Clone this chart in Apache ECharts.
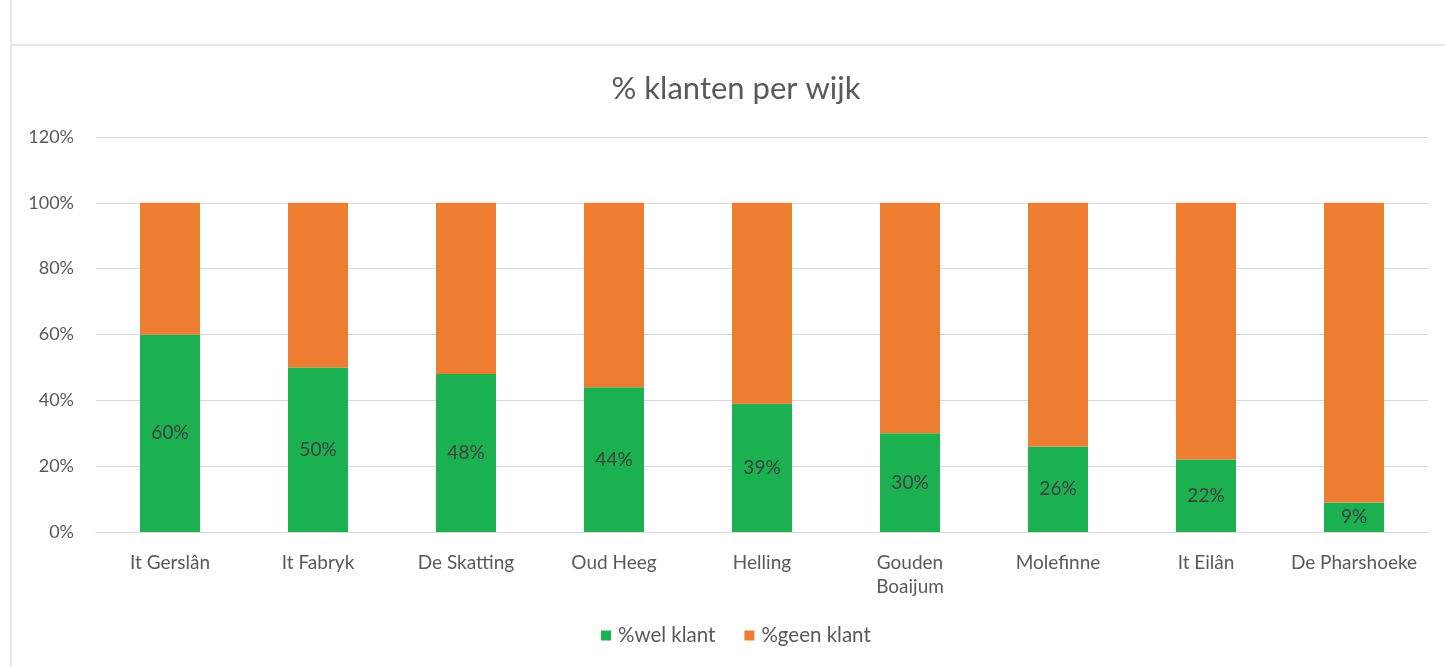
<!DOCTYPE html>
<html>
<head>
<meta charset="utf-8">
<script src="https://cdn.jsdelivr.net/npm/echarts@6/dist/echarts.min.js"></script>
<style>
html,body{margin:0;padding:0;background:#fff;}
#c{width:1445px;height:667px;}
</style>
</head>
<body>
<div id="c"></div>
<script>
const categories = ['It Gerslân','It Fabryk','De Skatting','Oud Heeg','Helling','Gouden\nBoaijum','Molefinne','It Eilân','De Pharshoeke'];
const welKlant = [60,50,48,44,39,30,26,22,9];
const geenKlant = [40,50,52,56,61,70,74,78,91];
const seriesNames = ['%wel klant','%geen klant'];

const FONT = 'Lato, "Open Sans", sans-serif';
const chart = echarts.init(document.getElementById('c'), null, {renderer:'canvas'});
chart.setOption({
  backgroundColor:'#fff',
  animation:false,
  graphic:[
    {type:'line', shape:{x1:11,y1:0,x2:11,y2:667}, style:{stroke:'#e8e8e8',lineWidth:2}},
    {type:'line', shape:{x1:12,y1:45,x2:1445,y2:45}, style:{stroke:'#e6e6e6',lineWidth:2}}
  ],
  title:{
    text:'% klanten per wijk',
    left:731, top:68, textAlign:'center',
    textStyle:{fontFamily:FONT,fontSize:31,fontWeight:'normal',color:'#595959'}
  },
  legend:{
    data:seriesNames,
    bottom:16, left:596,
    itemWidth:10,itemHeight:10,itemGap:29,
    icon:'rect',
    textStyle:{fontFamily:FONT,fontSize:20.5,color:'#595959',padding:[0,0,0,2]}
  },
  grid:{left:96,right:17,top:137,bottom:135,containLabel:false},
  xAxis:{
    type:'category',
    data:categories,
    axisLine:{show:true,lineStyle:{color:'#d9d9d9'}},
    axisTick:{show:false},
    axisLabel:{fontFamily:FONT,fontSize:19,color:'#595959',margin:19,lineHeight:24,interval:0}
  },
  yAxis:{
    type:'value',
    min:0,max:120,interval:20,
    axisLine:{show:false},
    axisTick:{show:false},
    splitLine:{lineStyle:{color:'#d9d9d9'}},
    axisLabel:{fontFamily:FONT,fontSize:18,color:'#595959',margin:22,formatter:v=>v+'%'}
  },
  series:[
    {
      name:seriesNames[0],type:'bar',stack:'t',data:welKlant,barWidth:60,
      itemStyle:{color:'#1bb050'},
      label:{show:true,position:'inside',formatter:p=>p.value+'%',fontFamily:FONT,fontSize:19,color:'#3f3f3f'}
    },
    {
      name:seriesNames[1],type:'bar',stack:'t',data:geenKlant,barWidth:60,
      itemStyle:{color:'#ed7d31'}
    }
  ]
});
</script>
</body>
</html>
